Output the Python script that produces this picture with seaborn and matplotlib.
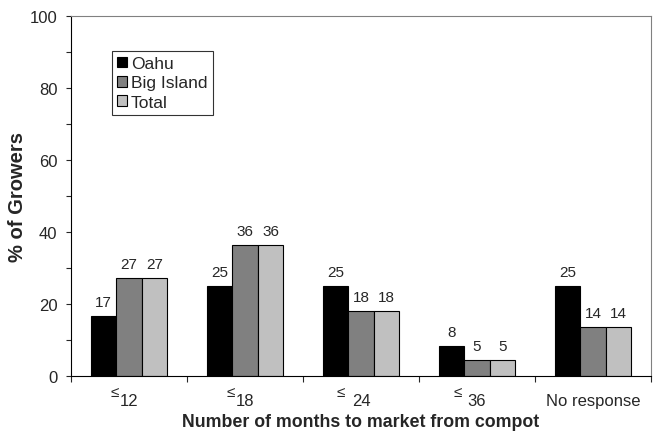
import numpy as np
import pandas as pd
import matplotlib
matplotlib.use("Agg")
import matplotlib.pyplot as plt
import seaborn as sns
from matplotlib.ticker import MultipleLocator, FixedLocator

categories = ["le12", "le18", "le24", "le36", "No response"]
tick_labels = ["12", "18", "24", "36", "No response"]
le_prefix = ["≤", "≤", "≤", "≤", ""]
series = ["Oahu", "Big Island", "Total"]
oahu = [16.7, 25.0, 25.0, 8.3, 25.0]
big_island = [27.3, 36.4, 18.2, 4.55, 13.6]
total = [27.3, 36.4, 18.2, 4.55, 13.6]
colors = ["#000000", "#808080", "#c0c0c0"]

df = pd.DataFrame({
    "cat": categories * 3,
    "grp": [s for s in series for _ in categories],
    "val": oahu + big_island + total,
})

sns.set_style("white")
plt.rcParams["font.family"] = ["Liberation Sans", "DejaVu Sans"]

fig = plt.figure(figsize=(6.57, 4.35), dpi=100)
ax = fig.add_axes([0.108, 0.133, 0.883, 0.828])
sns.barplot(data=df, x="cat", y="val", hue="grp", palette=colors,
            width=0.66, edgecolor="black", linewidth=0.8, ax=ax, legend=True)

for c in ax.containers:
    ax.bar_label(c, fmt="%.0f", padding=5, fontsize=11)

ax.set_ylim(0, 100)
ax.set_xlim(-0.5, 4.5)
ax.yaxis.set_major_locator(MultipleLocator(20))
ax.yaxis.set_minor_locator(MultipleLocator(10))
ax.tick_params(axis="y", which="both", direction="out", length=3.6, width=0.8,
               left=True, labelsize=12, pad=6)
ax.set_xticks(range(5))
ax.set_xticklabels(tick_labels, fontsize=12)
ax.xaxis.set_minor_locator(FixedLocator(np.arange(-0.5, 5, 1)))
ax.tick_params(axis="x", which="major", length=0, pad=12)
ax.tick_params(axis="x", which="minor", direction="out", length=4.3, width=0.8, bottom=True)

# small raised "≤" before the month numbers
for i, p in enumerate(le_prefix):
    if p:
        dx = -18.5 if i < 2 else -24
        ax.annotate(p, xy=(i, 0), xycoords=("data", "axes fraction"),
                    xytext=(dx, -20), textcoords="offset pixels",
                    ha="left", va="baseline", fontsize=11)

for s in ax.spines.values():
    s.set_color("black")
    s.set_linewidth(0.8)
for s in ["top", "right"]:
    ax.spines[s].set_color("#808080")

ax.set_xlabel("Number of months to market from compot", fontsize=12.8, fontweight="bold", labelpad=4)
ax.set_ylabel("% of Growers", fontsize=14.5, fontweight="bold", labelpad=2)

leg = ax.legend(loc="upper left", bbox_to_anchor=(0.0707, 0.903), fontsize=12.5,
                frameon=True, fancybox=False, edgecolor="black",
                handlelength=0.55, handleheight=0.55, handletextpad=0.25,
                borderpad=0.3, labelspacing=0.25, borderaxespad=0)
leg.get_frame().set_linewidth(0.8)

fig.savefig("out.png", dpi=100)
